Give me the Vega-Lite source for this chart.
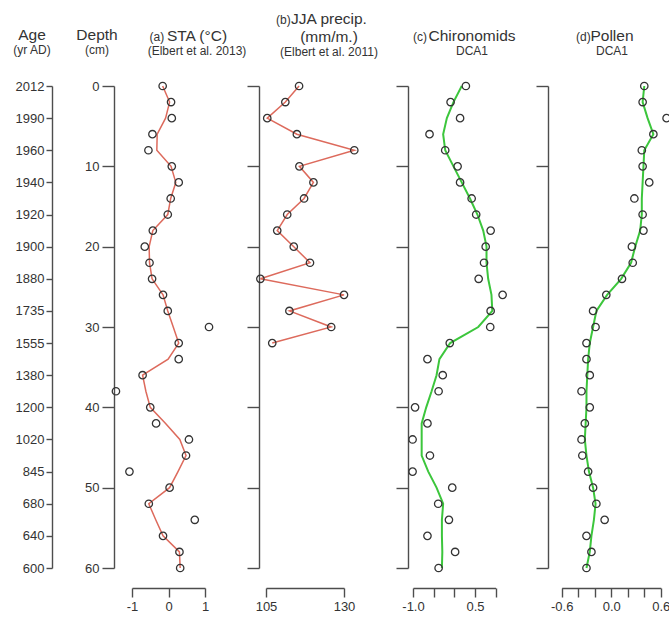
{
  "$schema": "https://vega.github.io/schema/vega-lite/v6.json",
  "background": "white",
  "padding": {"left": 13, "top": 11, "right": 0, "bottom": 0},
  "bounds": "flush",
  "spacing": 0,
  "config": {
    "font": "Liberation Sans",
    "view": {"stroke": null},
    "axis": {
      "grid": false,
      "domainColor": "#4d4d4d",
      "domainWidth": 1.4,
      "tickColor": "#4d4d4d",
      "tickWidth": 1.4,
      "labelColor": "#333333",
      "labelFont": "Liberation Sans",
      "labelFontSize": 13,
      "labelFlush": false,
      "labelBound": false,
      "labelOverlap": false,
      "titleFont": "Liberation Sans",
      "titleFontWeight": "normal",
      "titleColor": "#333333"
    },
    "title": {
      "font": "Liberation Sans",
      "fontSize": 15.5,
      "fontWeight": "normal",
      "color": "#333333",
      "subtitleFont": "Liberation Sans",
      "subtitleFontSize": 12,
      "subtitleColor": "#333333",
      "subtitlePadding": 2,
      "frame": "group",
      "anchor": "middle"
    }
  },
  "datasets": {
    "ages": [
      {"depth": 0, "age": "2012"}, {"depth": 4, "age": "1990"}, {"depth": 8, "age": "1960"},
      {"depth": 12, "age": "1940"}, {"depth": 16, "age": "1920"}, {"depth": 20, "age": "1900"},
      {"depth": 24, "age": "1880"}, {"depth": 28, "age": "1735"}, {"depth": 32, "age": "1555"},
      {"depth": 36, "age": "1380"}, {"depth": 40, "age": "1200"}, {"depth": 44, "age": "1020"},
      {"depth": 48, "age": "845"}, {"depth": 52, "age": "680"}, {"depth": 56, "age": "640"},
      {"depth": 60, "age": "600"}
    ],
    "sta_pts": [
      {"depth": 0, "value": -0.16}, {"depth": 2, "value": 0.07}, {"depth": 4, "value": 0.09},
      {"depth": 6, "value": -0.44}, {"depth": 8, "value": -0.55}, {"depth": 10, "value": 0.09},
      {"depth": 12, "value": 0.28}, {"depth": 14, "value": 0.06}, {"depth": 16, "value": -0.02},
      {"depth": 18, "value": -0.43}, {"depth": 20, "value": -0.65}, {"depth": 22, "value": -0.52},
      {"depth": 24, "value": -0.45}, {"depth": 26, "value": -0.15}, {"depth": 28, "value": -0.02},
      {"depth": 30, "value": 1.11}, {"depth": 32, "value": 0.28}, {"depth": 34, "value": 0.28},
      {"depth": 36, "value": -0.71}, {"depth": 38, "value": -1.44}, {"depth": 40, "value": -0.50},
      {"depth": 42, "value": -0.34}, {"depth": 44, "value": 0.56}, {"depth": 46, "value": 0.48},
      {"depth": 48, "value": -1.07}, {"depth": 50, "value": 0.03}, {"depth": 52, "value": -0.54},
      {"depth": 54, "value": 0.72}, {"depth": 56, "value": -0.15}, {"depth": 58, "value": 0.30},
      {"depth": 60, "value": 0.32}
    ],
    "sta_fit": [
      {"depth": 0, "value": -0.16}, {"depth": 2, "value": 0.03}, {"depth": 4, "value": -0.08},
      {"depth": 6, "value": -0.31}, {"depth": 8, "value": -0.32}, {"depth": 10, "value": 0.07},
      {"depth": 12, "value": 0.20}, {"depth": 14, "value": 0.06}, {"depth": 16, "value": -0.02},
      {"depth": 18, "value": -0.43}, {"depth": 20, "value": -0.53}, {"depth": 22, "value": -0.52},
      {"depth": 24, "value": -0.45}, {"depth": 26, "value": -0.15}, {"depth": 28, "value": -0.02},
      {"depth": 30, "value": 0.13}, {"depth": 32, "value": 0.28}, {"depth": 34, "value": -0.01},
      {"depth": 36, "value": -0.71}, {"depth": 38, "value": -0.62}, {"depth": 40, "value": -0.50},
      {"depth": 42, "value": -0.08}, {"depth": 44, "value": 0.31}, {"depth": 46, "value": 0.48},
      {"depth": 48, "value": 0.26}, {"depth": 50, "value": 0.03}, {"depth": 52, "value": -0.54},
      {"depth": 54, "value": -0.35}, {"depth": 56, "value": -0.15}, {"depth": 58, "value": 0.30},
      {"depth": 60, "value": 0.32}
    ],
    "jja": [
      {"depth": 0, "value": 115.6}, {"depth": 2, "value": 111.2}, {"depth": 4, "value": 105.4},
      {"depth": 6, "value": 114.9}, {"depth": 8, "value": 133.3}, {"depth": 10, "value": 115.7},
      {"depth": 12, "value": 120.2}, {"depth": 14, "value": 117.2}, {"depth": 16, "value": 111.8},
      {"depth": 18, "value": 108.6}, {"depth": 20, "value": 113.9}, {"depth": 22, "value": 119.1},
      {"depth": 24, "value": 103.2}, {"depth": 26, "value": 130.0}, {"depth": 28, "value": 112.5},
      {"depth": 30, "value": 125.9}, {"depth": 32, "value": 107.0}
    ],
    "chiro_pts": [
      {"depth": 0, "value": 0.28}, {"depth": 2, "value": -0.09}, {"depth": 4, "value": 0.14},
      {"depth": 6, "value": -0.60}, {"depth": 8, "value": -0.22}, {"depth": 10, "value": 0.08},
      {"depth": 12, "value": 0.14}, {"depth": 14, "value": 0.42}, {"depth": 16, "value": 0.53},
      {"depth": 18, "value": 0.88}, {"depth": 20, "value": 0.76}, {"depth": 22, "value": 0.72},
      {"depth": 24, "value": 0.59}, {"depth": 26, "value": 1.17}, {"depth": 28, "value": 0.88},
      {"depth": 30, "value": 0.87}, {"depth": 32, "value": -0.11}, {"depth": 34, "value": -0.65},
      {"depth": 36, "value": -0.28}, {"depth": 38, "value": -0.38}, {"depth": 40, "value": -0.95},
      {"depth": 42, "value": -0.65}, {"depth": 44, "value": -1.01}, {"depth": 46, "value": -0.59},
      {"depth": 48, "value": -1.01}, {"depth": 50, "value": -0.05}, {"depth": 52, "value": -0.39},
      {"depth": 54, "value": -0.13}, {"depth": 56, "value": -0.65}, {"depth": 58, "value": 0.02},
      {"depth": 60, "value": -0.38}
    ],
    "chiro_fit": [
      {"depth": 0, "value": 0.18}, {"depth": 2, "value": -0.02}, {"depth": 4, "value": -0.18},
      {"depth": 6, "value": -0.27}, {"depth": 8, "value": -0.22}, {"depth": 10, "value": -0.02},
      {"depth": 12, "value": 0.18}, {"depth": 14, "value": 0.38}, {"depth": 16, "value": 0.56},
      {"depth": 18, "value": 0.70}, {"depth": 20, "value": 0.78}, {"depth": 22, "value": 0.78},
      {"depth": 24, "value": 0.82}, {"depth": 26, "value": 0.90}, {"depth": 28, "value": 0.92},
      {"depth": 30, "value": 0.58}, {"depth": 32, "value": -0.10}, {"depth": 34, "value": -0.36},
      {"depth": 36, "value": -0.43}, {"depth": 38, "value": -0.55}, {"depth": 40, "value": -0.68},
      {"depth": 42, "value": -0.79}, {"depth": 44, "value": -0.79}, {"depth": 46, "value": -0.79},
      {"depth": 48, "value": -0.63}, {"depth": 50, "value": -0.43}, {"depth": 52, "value": -0.27},
      {"depth": 54, "value": -0.30}, {"depth": 56, "value": -0.30}, {"depth": 58, "value": -0.29},
      {"depth": 60, "value": -0.30}
    ],
    "pollen_pts": [
      {"depth": 0, "value": 0.40}, {"depth": 2, "value": 0.38}, {"depth": 4, "value": 0.67},
      {"depth": 6, "value": 0.51}, {"depth": 8, "value": 0.37}, {"depth": 10, "value": 0.38},
      {"depth": 12, "value": 0.46}, {"depth": 14, "value": 0.28}, {"depth": 16, "value": 0.38},
      {"depth": 18, "value": 0.39}, {"depth": 20, "value": 0.25}, {"depth": 22, "value": 0.26},
      {"depth": 24, "value": 0.13}, {"depth": 26, "value": -0.06}, {"depth": 28, "value": -0.22},
      {"depth": 30, "value": -0.19}, {"depth": 32, "value": -0.30}, {"depth": 34, "value": -0.30},
      {"depth": 36, "value": -0.26}, {"depth": 38, "value": -0.36}, {"depth": 40, "value": -0.26},
      {"depth": 42, "value": -0.32}, {"depth": 44, "value": -0.36}, {"depth": 46, "value": -0.35},
      {"depth": 48, "value": -0.28}, {"depth": 50, "value": -0.22}, {"depth": 52, "value": -0.18},
      {"depth": 54, "value": -0.08}, {"depth": 56, "value": -0.30}, {"depth": 58, "value": -0.24},
      {"depth": 60, "value": -0.30}
    ],
    "pollen_fit": [
      {"depth": 0, "value": 0.40}, {"depth": 2, "value": 0.38}, {"depth": 4, "value": 0.44},
      {"depth": 6, "value": 0.51}, {"depth": 8, "value": 0.40}, {"depth": 10, "value": 0.39},
      {"depth": 12, "value": 0.38}, {"depth": 14, "value": 0.37}, {"depth": 16, "value": 0.37},
      {"depth": 18, "value": 0.35}, {"depth": 20, "value": 0.29}, {"depth": 22, "value": 0.24},
      {"depth": 24, "value": 0.12}, {"depth": 26, "value": -0.05}, {"depth": 28, "value": -0.18},
      {"depth": 30, "value": -0.22}, {"depth": 32, "value": -0.26}, {"depth": 34, "value": -0.28},
      {"depth": 36, "value": -0.29}, {"depth": 38, "value": -0.30}, {"depth": 40, "value": -0.30},
      {"depth": 42, "value": -0.31}, {"depth": 44, "value": -0.32}, {"depth": 46, "value": -0.30},
      {"depth": 48, "value": -0.27}, {"depth": 50, "value": -0.22}, {"depth": 52, "value": -0.19},
      {"depth": 54, "value": -0.21}, {"depth": 56, "value": -0.24}, {"depth": 58, "value": -0.26},
      {"depth": 60, "value": -0.30}
    ]
  },
  "hconcat": [
    {
      "width": 62,
      "height": 482,
      "title": {"text": "Age", "subtitle": "(yr AD)", "dx": -51, "offset": 24},
      "data": {"name": "ages"},
      "mark": {"type": "point", "opacity": 0},
      "encoding": {
        "y": {
          "field": "age",
          "type": "ordinal",
          "sort": {"field": "depth", "order": "ascending"},
          "scale": {"type": "point", "padding": 0},
          "axis": {"title": null, "tickSize": 6, "labelPadding": 2}
        }
      }
    },
    {
      "width": 1,
      "height": 482,
      "title": {"text": "Depth", "subtitle": "(cm)", "dx": -17.5, "offset": 24},
      "data": {"name": "sta_pts"},
      "mark": {"type": "point", "opacity": 0},
      "encoding": {
        "y": {
          "field": "depth",
          "type": "quantitative",
          "scale": {"domain": [0, 60], "reverse": true, "nice": false, "zero": false},
          "axis": {"title": null, "values": [0, 10, 20, 30, 40, 50, 60], "tickSize": 12, "labelPadding": 3}
        }
      }
    },
    {
      "width": 144,
      "height": 482,
      "title": {"text": "STA (°C)", "subtitle": "(Elbert et al. 2013)", "dx": 10, "offset": -27},
      "encoding": {
        "x": {
          "field": "value",
          "type": "quantitative",
          "scale": {"domain": [-1, 1], "range": [17, 90], "nice": false, "zero": false},
          "axis": {
            "title": null, "orient": "bottom", "offset": 20, "values": [-1, 0, 1],
            "tickSize": 9, "labelPadding": 3,
            "labelExpr": "datum.value < 0 ? '-' + abs(datum.value) : '' + datum.value"
          }
        },
        "y": {
          "field": "depth",
          "type": "quantitative",
          "scale": {"domain": [0, 60], "reverse": true, "nice": false, "zero": false},
          "axis": {
            "domain": false, "ticks": false, "labels": false,
            "title": "(a)", "titleAngle": 0, "titleX": 34, "titleY": -46,
            "titleAlign": "left", "titleBaseline": "alphabetic", "titleFontSize": 12
          }
        }
      },
      "layer": [
        {
          "data": {"name": "sta_fit"},
          "mark": {"type": "line", "color": "#dd6a5c", "strokeWidth": 1.5},
          "encoding": {"order": {"field": "depth", "type": "quantitative"}}
        },
        {
          "data": {"name": "sta_pts"},
          "mark": {"type": "point", "shape": "circle", "filled": false, "color": "#333333", "size": 55, "strokeWidth": 1.3, "opacity": 1}
        }
      ]
    },
    {
      "width": 149,
      "height": 482,
      "title": {"text": ["JJA precip.", "(mm/m.)"], "subtitle": "(Elbert et al. 2011)", "dx": -4.5, "offset": -45, "lineHeight": 18},
      "data": {"name": "jja"},
      "encoding": {
        "x": {
          "field": "value",
          "type": "quantitative",
          "scale": {"domain": [105, 130], "range": [7, 85], "nice": false, "zero": false},
          "axis": {
            "title": null, "orient": "bottom", "offset": 20, "values": [105, 130],
            "tickSize": 9, "labelPadding": 3
          }
        },
        "y": {
          "field": "depth",
          "type": "quantitative",
          "scale": {"domain": [0, 60], "reverse": true, "nice": false, "zero": false},
          "axis": {
            "values": [0, 10, 20, 30, 40, 50, 60], "labels": false, "tickSize": 12,
            "title": "(b)", "titleAngle": 0, "titleX": 16.5, "titleY": -63,
            "titleAlign": "left", "titleBaseline": "alphabetic", "titleFontSize": 12
          }
        }
      },
      "layer": [
        {
          "mark": {"type": "line", "color": "#dd6a5c", "strokeWidth": 1.5},
          "encoding": {"order": {"field": "depth", "type": "quantitative"}}
        },
        {
          "mark": {"type": "point", "shape": "circle", "filled": false, "color": "#333333", "size": 55, "strokeWidth": 1.3, "opacity": 1}
        }
      ]
    },
    {
      "width": 140,
      "height": 482,
      "title": {"text": "Chironomids", "subtitle": "DCA1", "dx": -6, "offset": -27},
      "encoding": {
        "x": {
          "field": "value",
          "type": "quantitative",
          "scale": {"domain": [-1, 1], "range": [5, 87.6], "nice": false, "zero": false},
          "axis": {
            "title": null, "orient": "bottom", "offset": 20, "values": [-1, -0.5, 0, 0.5, 1],
            "tickSize": 9, "labelPadding": 3,
            "labelExpr": "datum.value == -1 ? '-1.0' : (datum.value == 0.5 ? '0.5' : '')"
          }
        },
        "y": {
          "field": "depth",
          "type": "quantitative",
          "scale": {"domain": [0, 60], "reverse": true, "nice": false, "zero": false},
          "axis": {
            "values": [0, 10, 20, 30, 40, 50, 60], "labels": false, "tickSize": 12,
            "title": "(c)", "titleAngle": 0, "titleX": 4.5, "titleY": -46,
            "titleAlign": "left", "titleBaseline": "alphabetic", "titleFontSize": 12
          }
        }
      },
      "layer": [
        {
          "data": {"name": "chiro_fit"},
          "mark": {"type": "line", "color": "#3cc63c", "strokeWidth": 2},
          "encoding": {"order": {"field": "depth", "type": "quantitative"}}
        },
        {
          "data": {"name": "chiro_pts"},
          "mark": {"type": "point", "shape": "circle", "filled": false, "color": "#333333", "size": 55, "strokeWidth": 1.3, "opacity": 1}
        }
      ]
    },
    {
      "width": 121,
      "height": 482,
      "title": {"text": "Pollen", "subtitle": "DCA1", "dx": 3.5, "offset": -27},
      "encoding": {
        "x": {
          "field": "value",
          "type": "quantitative",
          "scale": {"domain": [-0.6, 0.6], "range": [13.7, 112.8], "nice": false, "zero": false},
          "axis": {
            "title": null, "orient": "bottom", "offset": 20,
            "values": [-0.6, -0.4, -0.2, 0, 0.2, 0.4, 0.6],
            "tickSize": 9, "labelPadding": 3,
            "labelExpr": "abs(datum.value + 0.6) < 0.001 ? '-0.6' : (abs(datum.value) < 0.001 ? '0.0' : (abs(datum.value - 0.6) < 0.001 ? '0.6' : ''))"
          }
        },
        "y": {
          "field": "depth",
          "type": "quantitative",
          "scale": {"domain": [0, 60], "reverse": true, "nice": false, "zero": false},
          "axis": {
            "values": [0, 10, 20, 30, 40, 50, 60], "labels": false, "tickSize": 12,
            "title": "(d)", "titleAngle": 0, "titleX": 27.5, "titleY": -46,
            "titleAlign": "left", "titleBaseline": "alphabetic", "titleFontSize": 12
          }
        }
      },
      "layer": [
        {
          "data": {"name": "pollen_fit"},
          "mark": {"type": "line", "color": "#3cc63c", "strokeWidth": 2},
          "encoding": {"order": {"field": "depth", "type": "quantitative"}}
        },
        {
          "data": {"name": "pollen_pts"},
          "mark": {"type": "point", "shape": "circle", "filled": false, "color": "#333333", "size": 55, "strokeWidth": 1.3, "opacity": 1}
        }
      ]
    }
  ]
}
